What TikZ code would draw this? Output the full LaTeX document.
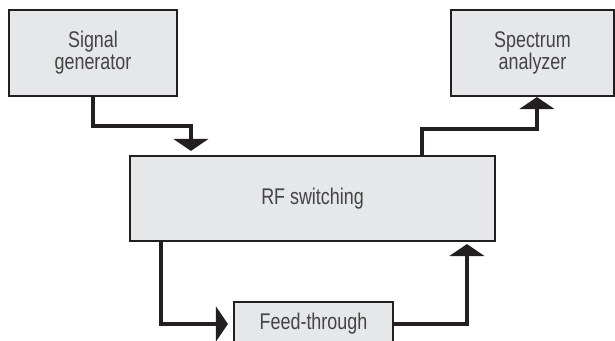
\documentclass[tikz,border=0pt]{standalone}
\usepackage{fontspec}
\setmainfont{Liberation Sans}[FakeStretch=0.79]
\usetikzlibrary{arrows.meta}

\definecolor{boxfill}{HTML}{E6E7E8}
\definecolor{boxline}{HTML}{231F20}
\definecolor{boxtext}{HTML}{444444}

\begin{document}
\begin{tikzpicture}[x=0.75pt, y=-0.75pt,
  block/.style={draw=boxline, fill=boxfill, line width=1.6pt, align=center,
    text=boxtext, font=\fontsize{17}{16.5}\selectfont, inner sep=0pt},
  link/.style={draw=boxline, line width=3pt, line join=miter,
    -{Triangle[width=26pt, length=9pt]}}
]
  \useasboundingbox (0,0) rectangle (615,341);
  \node[block, minimum width=126pt, minimum height=64.5pt] (siggen) at (93,53) {Signal\\generator};
  \node[block, minimum width=122.25pt, minimum height=64.5pt] (specan) at (532.5,53) {Spectrum\\analyzer};
  \node[block, minimum width=273.75pt, minimum height=63.75pt] (rfsw) at (312.5,198.5) {RF switching};
  \node[block, minimum width=119.25pt, minimum height=33pt] (feed) at (313.5,324) {Feed-through};

  % signal path
  \draw[link, shorten >=3pt] (siggen.south) -- ++(0,29) -| ([xshift=46.5pt]rfsw.north west);
  \draw[link] ([xshift=219.75pt]rfsw.north west) -- ++(0,-25.5) -| ([xshift=65.25pt]specan.south west);
  \draw[link, shorten >=3.75pt] ([xshift=24pt]rfsw.south west) |- (feed.west);
  \draw[link, shorten >=1.5pt] (feed.east) -| ([xshift=253.5pt]rfsw.south west);
\end{tikzpicture}
\end{document}
